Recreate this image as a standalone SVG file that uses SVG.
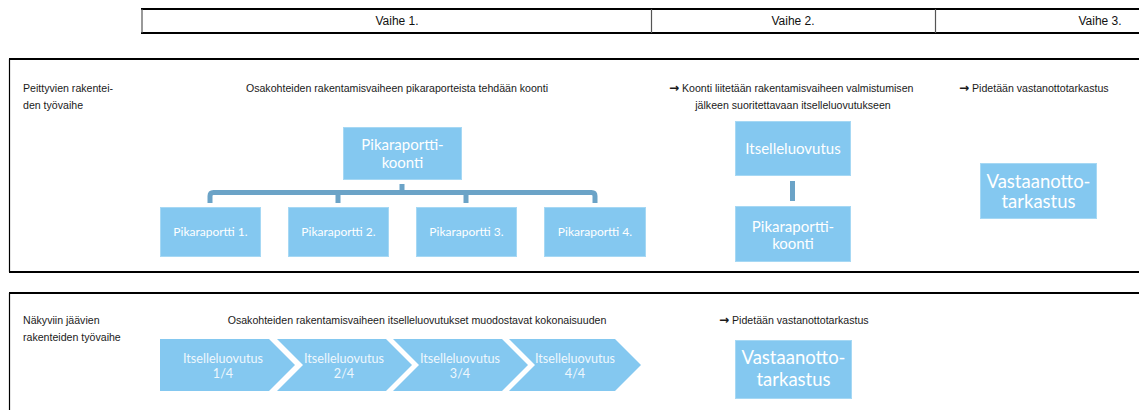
<svg xmlns="http://www.w3.org/2000/svg" width="1139" height="410" viewBox="0 0 1139 410">
<style>
.lbl{font-family:"Liberation Sans",Arial,sans-serif;font-size:10.6px;fill:#1a1a1a}
.arr{font-family:"DejaVu Sans",sans-serif;font-size:12px;font-weight:bold}
.hdr{font-family:"Liberation Sans",Arial,sans-serif;font-size:12px;fill:#111}
.box{fill:#84C8F0;stroke:#A6D8F4;stroke-width:1}
.bt{font-family:Lato,"Open Sans",sans-serif;fill:#ffffff;text-anchor:middle}
.s12{font-size:12px}
.s13{font-size:12.6px;fill:#eef7fd}
.s15{font-size:15px}
.s18{font-size:18.5px}
.con{fill:none;stroke:#6BA3C7;stroke-width:5}
.frame{fill:none;stroke:#000;stroke-width:2}
.thin{fill:none;stroke:#555;stroke-width:1.2}
</style>
<rect width="1139" height="410" fill="#fff"/>
<g id="header">
  <line class="frame" x1="141" y1="9" x2="1139" y2="9"/>
  <line class="frame" x1="141" y1="33" x2="1139" y2="33"/>
  <line class="thin" x1="142" y1="9" x2="142" y2="33"/>
  <line class="thin" x1="651.5" y1="9" x2="651.5" y2="33"/>
  <line class="thin" x1="935.5" y1="9" x2="935.5" y2="33"/>
  <text class="hdr" x="397" y="25" text-anchor="middle">Vaihe 1.</text>
  <text class="hdr" x="793" y="25" text-anchor="middle">Vaihe 2.</text>
  <text class="hdr" x="1100" y="25" text-anchor="middle">Vaihe 3.</text>
</g>
<g id="section1">
  <line class="frame" x1="9" y1="59" x2="1139" y2="59"/>
  <line class="frame" x1="9" y1="272" x2="1139" y2="272"/>
  <line class="thin" x1="9.5" y1="59" x2="9.5" y2="272" style="stroke:#000"/>
  <text class="lbl" x="23" y="92">Peittyvien rakentei-</text>
  <text class="lbl" x="23" y="109">den työvaihe</text>
  <text class="lbl" x="397" y="92" text-anchor="middle">Osakohteiden rakentamisvaiheen pikaraporteista tehdään koonti</text>
  <text class="lbl" x="669" y="92"><tspan class="arr">→</tspan> Koonti liitetään rakentamisvaiheen valmistumisen</text>
  <text class="lbl" x="793" y="109" text-anchor="middle">jälkeen suoritettavaan itselleluovutukseen</text>
  <text class="lbl" x="959" y="92"><tspan class="arr">→</tspan> Pidetään vastanottotarkastus</text>
</g>
<g id="section2">
  <line class="frame" x1="9" y1="293" x2="1139" y2="293"/>
  <line class="thin" x1="9.5" y1="293" x2="9.5" y2="410" style="stroke:#000"/>
  <text class="lbl" x="23" y="324">Näkyviin jäävien</text>
  <text class="lbl" x="23" y="341">rakenteiden työvaihe</text>
  <text class="lbl" x="417" y="324" text-anchor="middle">Osakohteiden rakentamisvaiheen itselleluovutukset muodostavat kokonaisuuden</text>
  <text class="lbl" x="719" y="324"><tspan class="arr">→</tspan> Pidetään vastanottotarkastus</text>
</g>
<g id="connectors">
  <path class="con" d="M210 203 V196 Q210 192.5 213.5 192.5 H591.5 Q595 192.5 595 196 V203"/>
  <path class="con" d="M338 192.5 V203 M466 192.5 V203 M402 184 V193"/>
  <path class="con" d="M792.5 181 V201"/>
</g>
<g id="koonti">
  <rect class="box" x="343.5" y="127.5" width="118" height="52"/>
  <text class="bt s15" x="402.5" y="149.5">Pikaraportti-</text>
  <text class="bt s15" x="402.5" y="168">koonti</text>
</g>
<g id="pika1">
  <rect class="box" x="160.5" y="207.5" width="100" height="49"/>
  <text class="bt s12" x="210.5" y="236">Pikaraportti 1.</text>
</g>
<g id="pika2">
  <rect class="box" x="288.5" y="207.5" width="100" height="49"/>
  <text class="bt s12" x="338.5" y="236">Pikaraportti 2.</text>
</g>
<g id="pika3">
  <rect class="box" x="416.5" y="207.5" width="100" height="49"/>
  <text class="bt s12" x="466.5" y="236">Pikaraportti 3.</text>
</g>
<g id="pika4">
  <rect class="box" x="544.5" y="207.5" width="101" height="49"/>
  <text class="bt s12" x="595" y="236">Pikaraportti 4.</text>
</g>
<g id="itselleluovutus">
  <rect class="box" x="735.5" y="121.5" width="115" height="54"/>
  <text class="bt s15" x="793" y="153.5">Itselleluovutus</text>
</g>
<g id="koonti2">
  <rect class="box" x="735.5" y="206.5" width="115" height="55"/>
  <text class="bt s15" x="793" y="231.5">Pikaraportti-</text>
  <text class="bt s15" x="793" y="248.5">koonti</text>
</g>
<g id="vastaanotto1">
  <rect class="box" x="980.5" y="163.5" width="116" height="55"/>
  <text class="bt s18" x="1038.5" y="187.5">Vastaanotto-</text>
  <text class="bt s18" x="1038.5" y="208">tarkastus</text>
</g>
<g id="chev1">
  <polygon class="box" style="stroke:none" points="160,339 269,339 295,365 269,391 160,391"/>
  <text class="bt s13" x="223" y="362.5">Itselleluovutus</text>
  <text class="bt s13" x="223" y="377.5">1/4</text>
</g>
<g id="chev2">
  <polygon class="box" style="stroke:none" points="277,339 386,339 412,365 386,391 277,391 303,365"/>
  <text class="bt s13" x="344" y="362.5">Itselleluovutus</text>
  <text class="bt s13" x="344" y="377.5">2/4</text>
</g>
<g id="chev3">
  <polygon class="box" style="stroke:none" points="393,339 502,339 528,365 502,391 393,391 419,365"/>
  <text class="bt s13" x="460" y="362.5">Itselleluovutus</text>
  <text class="bt s13" x="460" y="377.5">3/4</text>
</g>
<g id="chev4">
  <polygon class="box" style="stroke:none" points="509,339 615,339 641,365 615,391 509,391 535,365"/>
  <text class="bt s13" x="575" y="362.5">Itselleluovutus</text>
  <text class="bt s13" x="575" y="377.5">4/4</text>
</g>
<g id="vastaanotto2">
  <rect class="box" x="735.5" y="340.5" width="116" height="58"/>
  <text class="bt s18" x="793.5" y="364">Vastaanotto-</text>
  <text class="bt s18" x="793.5" y="386">tarkastus</text>
</g>
</svg>
